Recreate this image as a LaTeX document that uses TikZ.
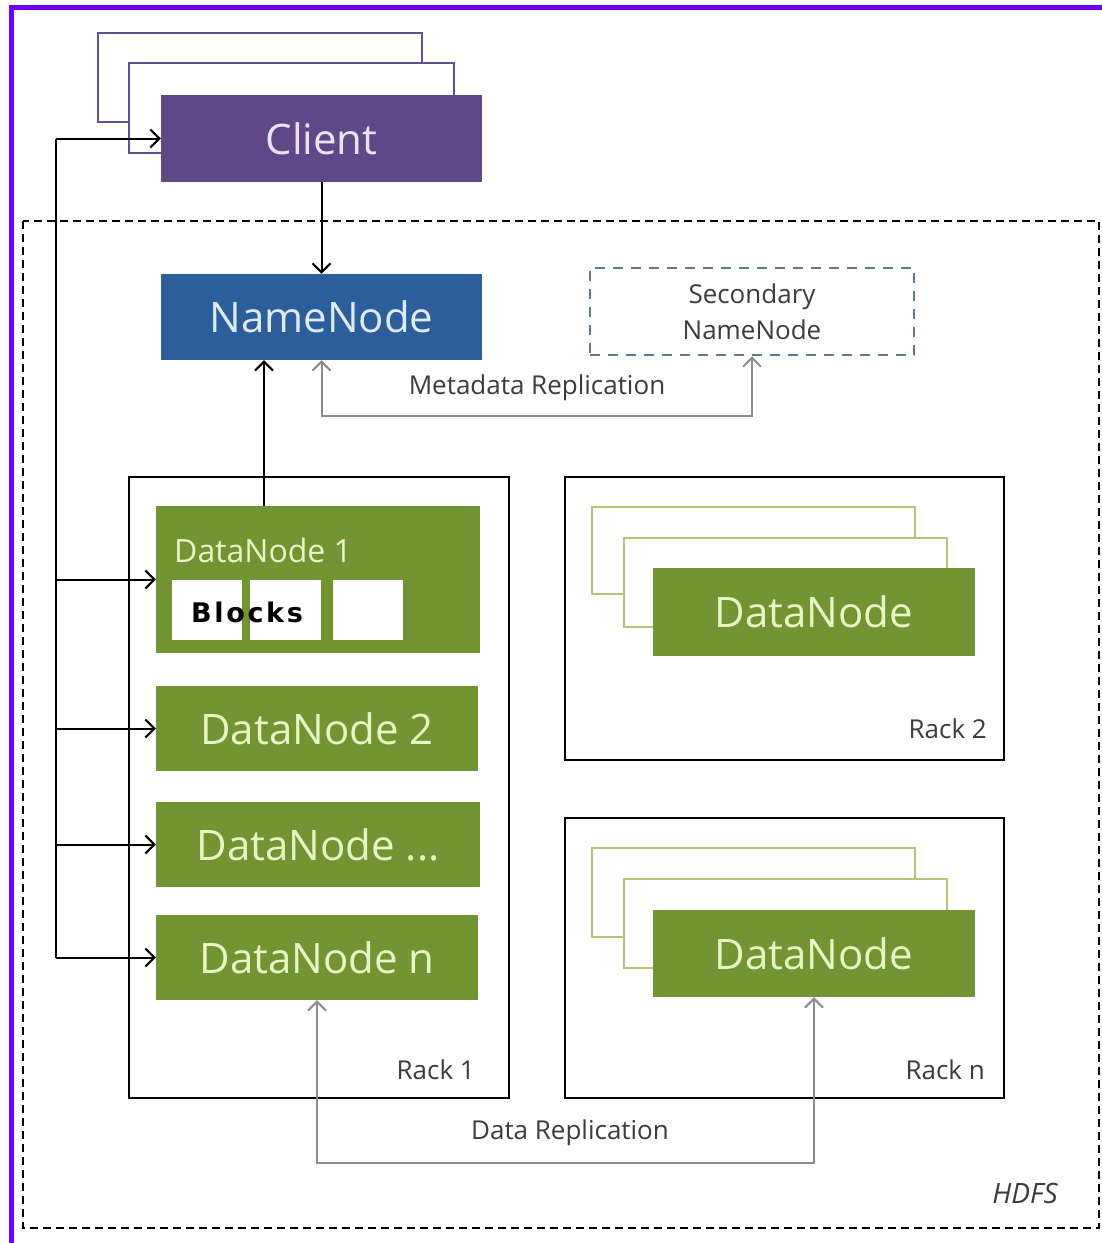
\documentclass[tikz,border=0pt]{standalone}
\usepackage{fontspec}
\setmainfont{Open Sans}
\newfontfamily\blkfont[LetterSpace=10]{DejaVu Sans}
\usetikzlibrary{arrows.meta,calc}
\definecolor{frame}{RGB}{106,0,255}
\definecolor{gfill}{RGB}{114,148,50}
\definecolor{gtext}{RGB}{232,245,196}
\definecolor{goutl}{RGB}{178,196,120}
\definecolor{pfill}{RGB}{96,72,136}
\definecolor{ptext}{RGB}{236,226,248}
\definecolor{poutl}{RGB}{100,80,140}
\definecolor{bfill}{RGB}{44,94,156}
\definecolor{btext}{RGB}{222,234,246}
\definecolor{sdash}{RGB}{92,120,156}
\definecolor{txtgray}{RGB}{60,60,60}
\definecolor{lgray}{RGB}{140,140,140}
\tikzset{
  fs/.style={font=\fontsize{#1}{#1}\selectfont},
  greenbox/.style={draw=none, fill=gfill, text=gtext, inner sep=0pt},
  ghost/.style={draw=goutl, line width=1.5pt, fill=white, inner sep=0pt},
  pghost/.style={draw=poutl, line width=1.5pt, fill=white, inner sep=0pt},
  rackbox/.style={draw=black, line width=2pt, inner sep=0pt},
  blockbox/.style={fill=white, draw=none, inner sep=0pt, minimum width=70pt, minimum height=60pt},
  arr/.style={draw=black, line width=2pt, -{Straight Barb[length=9pt,width=18pt,line width=2pt]}},
  garr/.style={draw=lgray, line width=2pt, {Straight Barb[length=9pt,width=18pt,line width=2pt]}-{Straight Barb[length=9pt,width=18pt,line width=2pt]}},
  lab/.style={text=txtgray, inner sep=0pt, fs=26},
}
\begin{document}
\begin{tikzpicture}[x=1pt,y=-1pt]
\useasboundingbox (0,0) rectangle (1102,1243);
\fill[white] (0,0) rectangle (1102,1243);
% frame (top and left only)
\fill[frame] (9,5) rectangle (1102,10);
\fill[frame] (9,5) rectangle (14,1243);
% HDFS dashed box
\draw[line width=2pt, dash pattern=on 8pt off 5pt] (23,221) rectangle (1099,1228);
\node[inner sep=0pt, text=txtgray, font=\itshape\fontsize{28}{28}\selectfont] (hdfs) at (1025,1193) {HDFS};
% Client stack
\node[pghost, minimum width=324pt, minimum height=89pt] (cb1) at (260,77.5) {};
\node[pghost, minimum width=325pt, minimum height=90pt] (cb2) at (291.5,108) {};
\node[draw=none, fill=pfill, text=ptext, inner sep=0pt, minimum width=321pt, minimum height=87pt, fs=42] (client) at (321.5,138.5) {Client};
% NameNode
\node[draw=none, fill=bfill, text=btext, inner sep=0pt, minimum width=321pt, minimum height=86pt, fs=42] (namenode) at (321.5,317) {NameNode};
% Secondary NameNode
\node[draw=sdash, line width=2.5pt, dash pattern=on 10pt off 8pt, fill=white, inner sep=0pt, minimum width=324pt, minimum height=87pt, align=center, text=txtgray, font=\fontsize{26}{36}\selectfont] (secondary) at (752,311.5) {Secondary\\NameNode};
\node[lab] (metalab) at (537,388) {Metadata Replication};
% Rack 1
\node[rackbox, minimum width=380pt, minimum height=621pt] (rack1) at (319,787.5) {};
\node[lab, anchor=base east] (rack1lab) at (475,1079) {Rack 1};
\node[greenbox, minimum width=324pt, minimum height=147pt] (dn1) at (318,579.5) {};
\node[inner sep=0pt, anchor=west, text=gtext, fs=32] (dn1lab) at (174,550) {DataNode 1};
\node[blockbox] (blk1) at (206.5,610) {};
\node[blockbox, minimum width=71pt] (blk2) at (285.5,610) {};
\node[blockbox] (blk3) at (367.5,610) {};
\node[inner sep=0pt, text=black, font=\blkfont\bfseries\fontsize{27}{27}\selectfont] (blocks) at (247,612) {Blocks};
\node[greenbox, minimum width=322pt, minimum height=85pt, fs=42] (dn2) at (317,728.5) {DataNode 2};
\node[greenbox, minimum width=324pt, minimum height=85pt, fs=42] (dnd) at (318,844.5) {DataNode ...};
\node[greenbox, minimum width=322pt, minimum height=85pt, fs=42] (dnn) at (317,957.5) {DataNode n};
% Rack 2
\node[rackbox, minimum width=439pt, minimum height=283pt] (rack2) at (784.5,618.5) {};
\node[lab, anchor=base east] (rack2lab) at (987,738) {Rack 2};
\node[ghost, minimum width=323pt, minimum height=87pt] (r2b1) at (753.5,550.5) {};
\node[ghost, minimum width=323pt, minimum height=89pt] (r2b2) at (785.5,582.5) {};
\node[greenbox, minimum width=322pt, minimum height=88pt, fs=42] (r2dn) at (814,612) {DataNode};
% Rack n
\node[rackbox, minimum width=439pt, minimum height=280pt] (rackn) at (784.5,958) {};
\node[lab, anchor=base east] (racknlab) at (985,1079) {Rack n};
\node[ghost, minimum width=323pt, minimum height=89pt] (rnb1) at (753.5,892.5) {};
\node[ghost, minimum width=323pt, minimum height=89pt] (rnb2) at (785.5,923.5) {};
\node[greenbox, minimum width=322pt, minimum height=87pt, fs=42] (rndn) at (814,953.5) {DataNode};
\node[lab] (datalab) at (570,1133) {Data Replication};
% Connectors
\coordinate (bustop) at (56,138.5);
\draw[line width=2pt] (bustop) -- (bustop |- dnn.west);
\draw[arr] (bustop) -- (client.west);
\draw[arr] (bustop |- dn1.west) -- (dn1.west);
\draw[arr] (bustop |- dn2.west) -- (dn2.west);
\draw[arr] (bustop |- dnd.west) -- (dnd.west);
\draw[arr] (bustop |- dnn.west) -- (dnn.west);
\draw[arr] (client.south) -- (namenode.south |- namenode.north);
\coordinate (dnup) at ($(dn1.north)+(-54,0)$);
\draw[arr] (dnup) -- (dnup |- namenode.south);
\draw[garr] (namenode.south) -- ++(0,56) -| (secondary.south);
\draw[garr] (dnn.south) -- ++(0,163) -| (rndn.south);
\end{tikzpicture}
\end{document}
